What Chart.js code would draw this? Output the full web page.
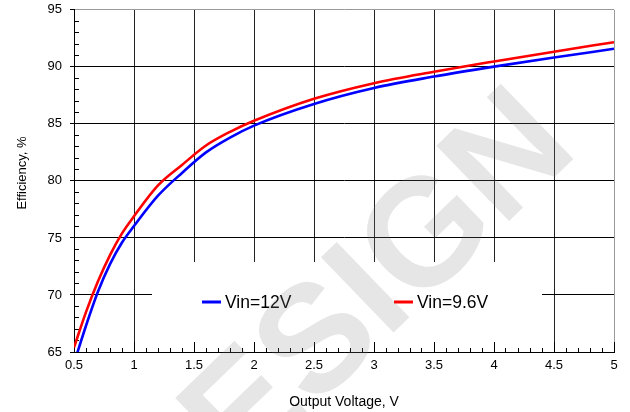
<!DOCTYPE html>
<html><head><meta charset="utf-8">
<script src="https://cdn.jsdelivr.net/npm/chart.js@4.4.0/dist/chart.umd.min.js"></script>
<style>html,body{margin:0;padding:0;background:#fff;overflow:hidden;} #wrap{width:630px;height:412px;}</style>
</head><body><div id="wrap"><canvas id="c" width="630" height="412"></canvas></div>
<script>
// ---- data ----
const xValues = [0.5, 0.6, 0.7, 0.8, 0.9, 1.0, 1.2, 1.4, 1.6, 1.8, 2.0, 2.5, 3.0, 3.5, 4.0, 4.5, 5.0];
const vin12 = [64.0, 67.3, 70.3, 72.7, 74.6, 76.05, 78.7, 80.7, 82.5, 83.8, 84.85, 86.75, 88.15, 89.15, 90.02, 90.82, 91.58];
const vin96 = [65.4, 68.5, 71.2, 73.5, 75.4, 76.9, 79.6, 81.4, 83.1, 84.3, 85.27, 87.2, 88.57, 89.57, 90.47, 91.33, 92.16];
const seriesLabels = ['Vin=12V', 'Vin=9.6V'];
const xTickValues = [0.5, 1, 1.5, 2, 2.5, 3, 3.5, 4, 4.5, 5];
const yTickValues = [65, 70, 75, 80, 85, 90, 95];
const xTitle = 'Output Voltage, V';
const yTitle = 'Efficiency, %';
const watermarkText = 'DESIGN';

const FONT = '"Liberation Sans", Arial, Helvetica, sans-serif';
const al = v => Math.round(v - 0.5) + 0.5;

const decor = {
  id: 'decor',
  beforeDatasetsDraw(chart) {
    const {ctx, scales: {x, y}} = chart;
    ctx.save();
    // legend panel (covers the grid)
    ctx.fillStyle = '#fff';
    ctx.fillRect(152, 262, 390, 80);
    // ticks
    ctx.strokeStyle = '#000';
    ctx.lineWidth = 1;
    ctx.beginPath();
    const L = chart.chartArea.left, B = chart.chartArea.bottom;
    for (let i = 65; i <= 95; i++) {
      const py = al(y.getPixelForValue(i));
      if (i % 5 === 0) { ctx.moveTo(L - 4, py); ctx.lineTo(L, py); }
      else { ctx.moveTo(L, py); ctx.lineTo(L + 5, py); }
    }
    for (let i = 5; i <= 50; i++) {
      const px = al(x.getPixelForValue(i / 10));
      const len = (i % 5 === 0) ? 10 : 4;
      ctx.moveTo(px, B); ctx.lineTo(px, B - len);
    }
    ctx.stroke();
    // legend entries
    ctx.font = '17.5px ' + FONT;
    ctx.textBaseline = 'middle';
    ctx.textAlign = 'left';
    const pos = [{lx: 202, tx: 225}, {lx: 394, tx: 417}];
    chart.data.datasets.forEach((ds, k) => {
      const p = pos[k];
      ctx.strokeStyle = ds.borderColor;
      ctx.lineWidth = 3;
      ctx.beginPath(); ctx.moveTo(p.lx, 302); ctx.lineTo(p.lx + 19, 302); ctx.stroke();
      ctx.fillStyle = '#000';
      ctx.fillText(ds.label, p.tx, 303);
    });
    // watermark
    ctx.save();
    ctx.translate(342, 324);
    ctx.rotate(-44 * Math.PI / 180);
    ctx.font = 'bold 152px ' + FONT;
    ctx.textAlign = 'center';
    ctx.textBaseline = 'middle';
    ctx.fillStyle = 'rgba(128,128,128,0.2)';
    ctx.fillText(watermarkText, 0, 0);
    ctx.restore();
    ctx.restore();
  },
  afterDraw(chart) {
    const {ctx, chartArea} = chart;
    ctx.save();
    ctx.fillStyle = '#000';
    ctx.textAlign = 'center';
    ctx.textBaseline = 'middle';
    ctx.font = '14px ' + FONT;
    ctx.fillText(xTitle, (chartArea.left + chartArea.right) / 2, 402);
    ctx.translate(22, 173);
    ctx.rotate(-Math.PI / 2);
    ctx.font = '13px ' + FONT;
    ctx.fillText(yTitle, 0, 0);
    ctx.restore();
  }
};

new Chart(document.getElementById('c'), {
  type: 'line',
  data: {
    datasets: [
      {label: seriesLabels[0], data: xValues.map((v, i) => ({x: v, y: vin12[i]})), borderColor: '#0000ff', borderWidth: 2.6},
      {label: seriesLabels[1], data: xValues.map((v, i) => ({x: v, y: vin96[i]})), borderColor: '#ff0000', borderWidth: 2.6}
    ]
  },
  options: {
    responsive: false,
    animation: false,
    devicePixelRatio: 1,
    layout: {padding: {left: 0, right: 16, top: 0, bottom: 0}},
    elements: {point: {radius: 0}, line: {cubicInterpolationMode: 'monotone', fill: false}},
    datasets: {line: {clip: 0}},
    plugins: {legend: {display: false}, tooltip: {enabled: false}, title: {display: false}},
    scales: {
      x: {
        type: 'linear', min: 0.5, max: 5,
        afterBuildTicks: s => { s.ticks = xTickValues.map(v => ({value: v})); },
        afterFit: s => { s.height = 60; },
        ticks: {callback: v => String(v), font: {family: FONT, size: 13}, color: '#000', padding: 6, maxRotation: 0, autoSkip: false},
        grid: {color: c => (c.tick && c.tick.value === 5) ? '#999' : '#222', lineWidth: 1, drawTicks: false},
        border: {color: '#000', width: 1}
      },
      y: {
        type: 'linear', min: 65, max: 95,
        afterBuildTicks: s => { s.ticks = yTickValues.map(v => ({value: v})); },
        afterFit: s => { s.width = 74; },
        ticks: {callback: v => String(v), font: {family: FONT, size: 13}, color: '#000', padding: 2, autoSkip: false},
        grid: {color: c => (c.tick && c.tick.value === 95) ? '#999' : '#000', lineWidth: 1, tickLength: 10, tickColor: 'rgba(0,0,0,0)'},
        border: {color: '#000', width: 1}
      }
    }
  },
  plugins: [decor]
});
</script>
</body></html>
